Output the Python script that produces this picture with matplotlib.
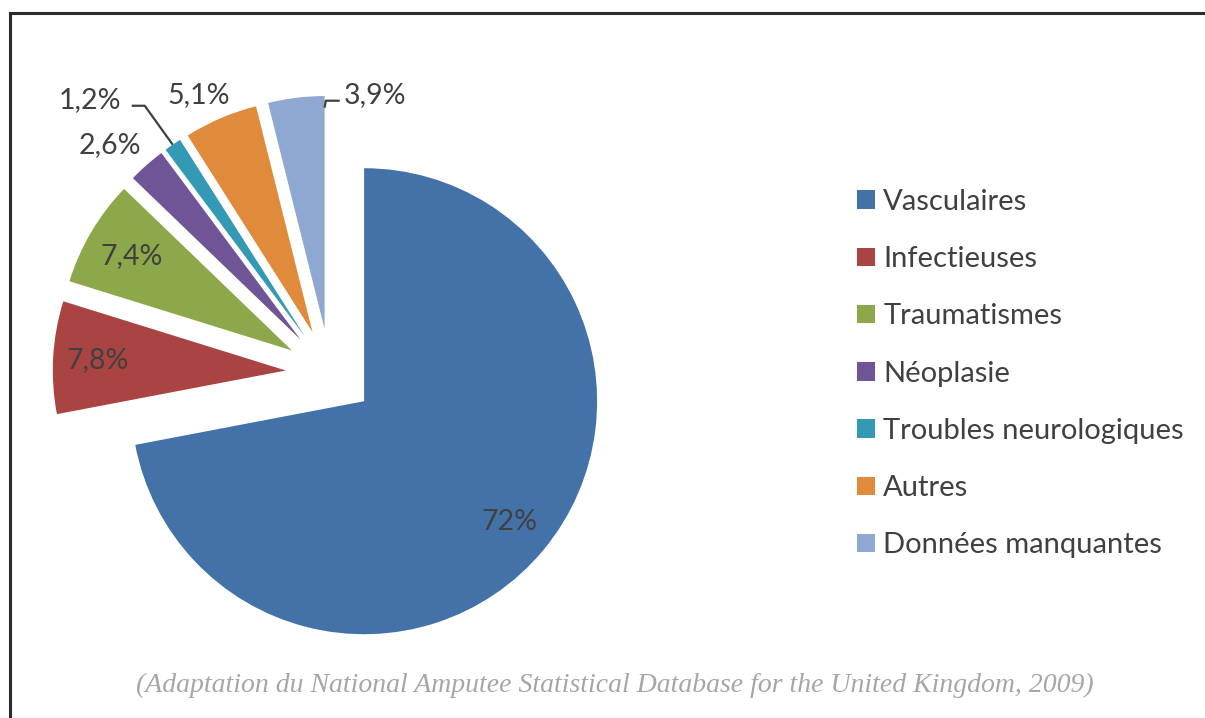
import matplotlib
matplotlib.use("Agg")
import matplotlib.pyplot as plt
from matplotlib.lines import Line2D
import numpy as np

# ---- data ----
categories = ["Vasculaires", "Infectieuses", "Traumatismes", "Néoplasie",
              "Troubles neurologiques", "Autres", "Données manquantes"]
values = [72.0, 7.8, 7.4, 2.6, 1.2, 5.1, 3.9]
pct_labels = ["72%", "7,8%", "7,4%", "2,6%", "1,2%", "5,1%", "3,9%"]
colors = ["#4372A8", "#A94442", "#8CA84A", "#6F5596", "#3399B4", "#E08A3C", "#8FA8D2"]
caption = "(Adaptation du National Amputee Statistical Database for the United Kingdom, 2009)"

W, H = 1205, 718
DPI = 100
R_PX = 233.0
CX, CY = 330.0, 373.0   # pie centre in image pixels (from top-left)

plt.rcParams['font.family'] = ['Lato', 'DejaVu Sans']

fig = plt.figure(figsize=(W / DPI, H / DPI), dpi=DPI)
fig.patch.set_facecolor("white")
ax = fig.add_axes([0, 0, 1, 1])

wedges, _ = ax.pie(values, colors=colors, startangle=90, counterclock=False,
                   explode=[0.19] * len(values), radius=1.0, center=(0, 0),
                   wedgeprops=dict(linewidth=0))
ax.set_xlim(-CX / R_PX, (W - CX) / R_PX)
ax.set_ylim(-(H - CY) / R_PX, CY / R_PX)
ax.set_aspect("auto")
ax.axis("off")

txt_color = "#404040"
fs = 20.5

def mid(w):
    return np.deg2rad(0.5 * (w.theta1 + w.theta2))

# inside labels
for i, d in ((0, 0.81), (1, 0.81), (2, 0.80)):
    w = wedges[i]
    t = mid(w)
    x = w.center[0] + d * w.r * np.cos(t)
    y = w.center[1] + d * w.r * np.sin(t)
    ax.text(x, y, pct_labels[i], ha="center", va="center", fontsize=fs, color=txt_color)

# outside labels without leader (Néoplasie, Autres)
for i, d, dang in ((3, 1.17, 3.0), (5, 1.13, 2.5)):
    w = wedges[i]
    t = mid(w) + np.deg2rad(dang)
    x = w.center[0] + d * w.r * np.cos(t)
    y = w.center[1] + d * w.r * np.sin(t)
    ax.text(x, y, pct_labels[i], ha="center", va="center", fontsize=fs, color=txt_color)

lc = "#404040"
# Troubles neurologiques: leader line
w = wedges[4]
t = mid(w)
px = w.center[0] + w.r * np.cos(t)
py = w.center[1] + w.r * np.sin(t)
ax.plot([px, px - 0.12, px - 0.176], [py, py + 0.167, py + 0.167], color=lc, lw=1.6,
        solid_capstyle="butt")
ax.text(px - 0.222, py + 0.19, pct_labels[4], ha="right", va="center",
        fontsize=fs, color=txt_color)

# Données manquantes: leader line
w = wedges[6]
t0 = np.deg2rad(w.theta1)
px = w.center[0] + 0.95 * w.r * np.cos(t0)
py = w.center[1] + 0.95 * w.r * np.sin(t0)
ax.plot([px, px + 0.005, px + 0.065], [py, py + 0.03, py + 0.03], color=lc, lw=1.6,
        solid_capstyle="butt")
ax.text(px + 0.082, py + 0.055, pct_labels[6], ha="left", va="center",
        fontsize=fs, color=txt_color)

# legend
leg = fig.legend(wedges, categories, loc="upper left",
                 bbox_to_anchor=(857 / W, 1 - 189 / H), frameon=False,
                 fontsize=21, handlelength=0.6, handleheight=0.6,
                 handletextpad=0.3, labelspacing=1.07, borderpad=0, borderaxespad=0)
for t in leg.get_texts():
    t.set_color(txt_color)

# caption
fig.text(615 / W, 1 - 685 / H, caption, ha="center", va="center",
         fontsize=20, color="#A6A6A6", family="Liberation Serif", style="italic")

# frame lines (top and left)
fig.add_artist(Line2D([10 / W, 1.0], [1 - 13 / H, 1 - 13 / H], color="#2b2b2b", lw=2.2,
                      transform=fig.transFigure))
fig.add_artist(Line2D([10 / W, 10 / W], [0.0, 1 - 13 / H], color="#2b2b2b", lw=2.2,
                      transform=fig.transFigure))

fig.savefig("out.png", dpi=DPI, facecolor="white")
